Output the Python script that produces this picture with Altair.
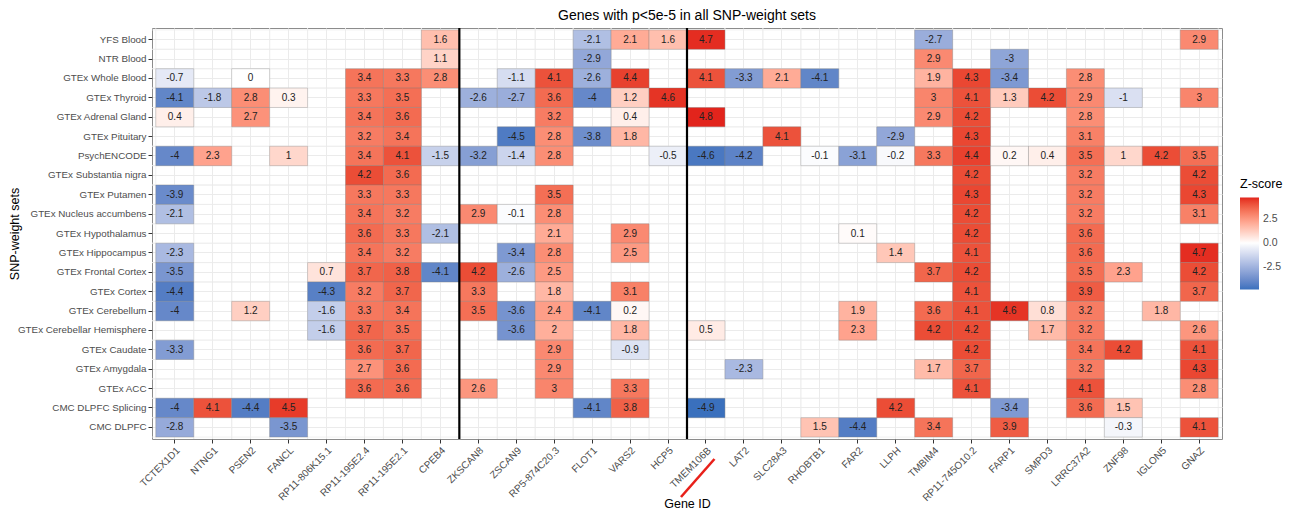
import altair as alt
import pandas as pd

N = None

sets = ["YFS Blood", "NTR Blood", "GTEx Whole Blood", "GTEx Thyroid", "GTEx Adrenal Gland",
        "GTEx Pituitary", "PsychENCODE", "GTEx Substantia nigra", "GTEx Putamen",
        "GTEx Nucleus accumbens", "GTEx Hypothalamus", "GTEx Hippocampus", "GTEx Frontal Cortex",
        "GTEx Cortex", "GTEx Cerebellum", "GTEx Cerebellar Hemisphere", "GTEx Caudate",
        "GTEx Amygdala", "GTEx ACC", "CMC DLPFC Splicing", "CMC DLPFC"]

genes = ["TCTEX1D1", "NTNG1", "PSEN2", "FANCL", "RP11-806K15.1", "RP11-195E2.4", "RP11-195E2.1",
         "CPEB4", "ZKSCAN8", "ZSCAN9", "RP5-874C20.3", "FLOT1", "VARS2", "HCP5", "TMEM106B",
         "LAT2", "SLC28A3", "RHOBTB1", "FAR2", "LLPH", "TMBIM4", "RP11-745O10.2", "FARP1",
         "SMPD3", "LRRC37A2", "ZNF98", "IGLON5", "GNAZ"]

# Z-scores per gene, one value per SNP-weight set (in the order of `sets`), None = not shown
z_TCTEX1D1 = [N, N, -0.7, -4.1, 0.4, N, -4, N, -3.9, -2.1, N, -2.3, -3.5, -4.4, -4, N, -3.3, N, N, -4, -2.8]
z_NTNG1 = [N, N, N, -1.8, N, N, 2.3, N, N, N, N, N, N, N, N, N, N, N, N, 4.1, N]
z_PSEN2 = [N, N, 0, 2.8, 2.7, N, N, N, N, N, N, N, N, N, 1.2, N, N, N, N, -4.4, N]
z_FANCL = [N, N, N, 0.3, N, N, 1, N, N, N, N, N, N, N, N, N, N, N, N, 4.5, -3.5]
z_RP11_806K15_1 = [N, N, N, N, N, N, N, N, N, N, N, N, 0.7, -4.3, -1.6, -1.6, N, N, N, N, N]
z_RP11_195E2_4 = [N, N, 3.4, 3.3, 3.4, 3.2, 3.4, 4.2, 3.3, 3.4, 3.6, 3.4, 3.7, 3.2, 3.3, 3.7, 3.6, 2.7, 3.6, N, N]
z_RP11_195E2_1 = [N, N, 3.3, 3.5, 3.6, 3.4, 4.1, 3.6, 3.3, 3.2, 3.3, 3.2, 3.8, 3.7, 3.4, 3.5, 3.7, 3.6, 3.6, N, N]
z_CPEB4 = [1.6, 1.1, 2.8, N, N, N, -1.5, N, N, N, -2.1, N, -4.1, N, N, N, N, N, N, N, N]
z_ZKSCAN8 = [N, N, N, -2.6, N, N, -3.2, N, N, 2.9, N, N, 4.2, 3.3, 3.5, N, N, N, 2.6, N, N]
z_ZSCAN9 = [N, N, -1.1, -2.7, N, -4.5, -1.4, N, N, -0.1, N, -3.4, -2.6, N, -3.6, -3.6, N, N, N, N, N]
z_RP5_874C20_3 = [N, N, 4.1, 3.6, 3.2, 2.8, 2.8, N, 3.5, 2.8, 2.1, 2.8, 2.5, 1.8, 2.4, 2, 2.9, 2.9, 3, N, N]
z_FLOT1 = [-2.1, -2.9, -2.6, -4, N, -3.8, N, N, N, N, N, N, N, N, -4.1, N, N, N, N, -4.1, N]
z_VARS2 = [2.1, N, 4.4, 1.2, 0.4, 1.8, N, N, N, N, 2.9, 2.5, N, 3.1, 0.2, 1.8, -0.9, N, 3.3, 3.8, N]
z_HCP5 = [1.6, N, N, 4.6, N, N, -0.5, N, N, N, N, N, N, N, N, N, N, N, N, N, N]
z_TMEM106B = [4.7, N, 4.1, N, 4.8, N, -4.6, N, N, N, N, N, N, N, N, 0.5, N, N, N, -4.9, N]
z_LAT2 = [N, N, -3.3, N, N, N, -4.2, N, N, N, N, N, N, N, N, N, N, -2.3, N, N, N]
z_SLC28A3 = [N, N, 2.1, N, N, 4.1, N, N, N, N, N, N, N, N, N, N, N, N, N, N, N]
z_RHOBTB1 = [N, N, -4.1, N, N, N, -0.1, N, N, N, N, N, N, N, N, N, N, N, N, N, 1.5]
z_FAR2 = [N, N, N, N, N, N, -3.1, N, N, N, 0.1, N, N, N, 1.9, 2.3, N, N, N, N, -4.4]
z_LLPH = [N, N, N, N, N, -2.9, -0.2, N, N, N, N, 1.4, N, N, N, N, N, N, N, 4.2, N]
z_TMBIM4 = [-2.7, 2.9, 1.9, 3, 2.9, N, 3.3, N, N, N, N, N, 3.7, N, 3.6, 4.2, N, 1.7, N, N, 3.4]
z_RP11_745O10_2 = [N, N, 4.3, 4.1, 4.2, 4.3, 4.4, 4.2, 4.3, 4.2, 4.2, 4.1, 4.2, 4.1, 4.1, 4.2, 4.2, 3.7, 4.1, N, N]
z_FARP1 = [N, -3, -3.4, 1.3, N, N, 0.2, N, N, N, N, N, N, N, 4.6, N, N, N, N, -3.4, 3.9]
z_SMPD3 = [N, N, N, 4.2, N, N, 0.4, N, N, N, N, N, N, N, 0.8, 1.7, N, N, N, N, N]
z_LRRC37A2 = [N, N, 2.8, 2.9, 2.8, 3.1, 3.5, 3.2, 3.2, 3.2, 3.6, 3.6, 3.5, 3.9, 3.2, 3.2, 3.4, 3.2, 4.1, 3.6, N]
z_ZNF98 = [N, N, N, -1, N, N, 1, N, N, N, N, N, 2.3, N, N, N, 4.2, N, N, 1.5, -0.3]
z_IGLON5 = [N, N, N, N, N, N, 4.2, N, N, N, N, N, N, N, 1.8, N, N, N, N, N, N]
z_GNAZ = [2.9, N, N, 3, N, N, 3.5, 4.2, 4.3, 3.1, N, 4.7, 4.2, 3.7, N, 2.6, 4.1, 4.3, 2.8, N, 4.1]

z_columns = [z_TCTEX1D1, z_NTNG1, z_PSEN2, z_FANCL, z_RP11_806K15_1, z_RP11_195E2_4, z_RP11_195E2_1,
             z_CPEB4, z_ZKSCAN8, z_ZSCAN9, z_RP5_874C20_3, z_FLOT1, z_VARS2, z_HCP5, z_TMEM106B,
             z_LAT2, z_SLC28A3, z_RHOBTB1, z_FAR2, z_LLPH, z_TMBIM4, z_RP11_745O10_2, z_FARP1,
             z_SMPD3, z_LRRC37A2, z_ZNF98, z_IGLON5, z_GNAZ]

separator_genes = ["ZKSCAN8", "TMEM106B"]   # black lines drawn at the left edge of these columns
highlight_gene = ["TMEM106B"]               # underlined in red

rows = []
for g, col in zip(genes, z_columns):
    for s, v in zip(sets, col):
        if v is not None:
            rows.append({"gene": g, "set": s, "z": v, "label": f"{v:g}"})
df = pd.DataFrame(rows)

W, H = 1070, 411
FONT = "Liberation Sans"
LOW, HIGH = "#3a70bd", "#e2241c"

xscale = alt.Scale(type="band", domain=genes, paddingInner=0, paddingOuter=0.1)
yscale = alt.Scale(type="band", domain=sets, paddingInner=0, paddingOuter=0.1)

xaxis = alt.Axis(labelAngle=-45, labelFontSize=10, labelColor="#4d4d4d", labelPadding=2,
                 tickColor="#333333", tickSize=4, grid=True, gridColor="#ebebeb", gridWidth=1,
                 domain=False, title="Gene ID", titleFontSize=12.5, titleFontWeight="normal",
                 titleColor="black", titleBaseline="middle", titleY=64)
yaxis = alt.Axis(labelFontSize=9.8, labelColor="#4d4d4d", labelPadding=2,
                 tickColor="#333333", tickSize=4, grid=True, gridColor="#ebebeb", gridWidth=1,
                 domain=False, title="SNP-weight sets", titleFontSize=12.5, titleFontWeight="normal",
                 titleColor="black", titleX=-131, titleY=H / 2)

genes_df = pd.DataFrame({"gene": genes})
sets_df = pd.DataFrame({"set": sets})

grid_x0 = alt.Chart(genes_df).mark_rule(color="#ebebeb", strokeWidth=0.7).encode(
    x=alt.X("gene:N", bandPosition=0, scale=xscale, axis=xaxis))
grid_x1 = alt.Chart(genes_df).mark_rule(color="#ebebeb", strokeWidth=0.7).encode(
    x=alt.X("gene:N", bandPosition=1, scale=xscale, axis=xaxis))
grid_y0 = alt.Chart(sets_df).mark_rule(color="#ebebeb", strokeWidth=0.7).encode(
    y=alt.Y("set:N", bandPosition=0, scale=yscale, axis=yaxis))
grid_y1 = alt.Chart(sets_df).mark_rule(color="#ebebeb", strokeWidth=0.7).encode(
    y=alt.Y("set:N", bandPosition=1, scale=yscale, axis=yaxis))

zdomain = [float(df["z"].min()), 0.0, float(df["z"].max())]

tiles = alt.Chart(df).mark_rect(stroke="#7a7a7a", strokeWidth=0.6, strokeOpacity=0.55).encode(
    x=alt.X("gene:N", scale=xscale, axis=xaxis),
    y=alt.Y("set:N", scale=yscale, axis=yaxis),
    color=alt.Color("z:Q",
                    scale=alt.Scale(domain=zdomain, range=[LOW, "#ffffff", HIGH], interpolate="lab"),
                    legend=alt.Legend(title="Z-score", orient="none", legendX=W + 18, legendY=150,
                                      gradientLength=92, gradientThickness=19, values=[-2.5, 0, 2.5],
                                      labelExpr="(datum.value < 0 ? '-' : '') + format(abs(datum.value), '.1f')",
                                      labelFontSize=10.5, labelColor="#4d4d4d", titleFontSize=12.5,
                                      titleFontWeight="normal", titleColor="black", titlePadding=7,
                                      gradientStrokeWidth=0, labelOffset=4)),
)

texts = alt.Chart(df).mark_text(fontSize=10, color="#222222", font=FONT).encode(
    x=alt.X("gene:N", scale=xscale, axis=xaxis),
    y=alt.Y("set:N", scale=yscale, axis=yaxis),
    text="label:N",
)

seps = alt.Chart(pd.DataFrame({"gene": separator_genes})).mark_rule(color="black", strokeWidth=2.2).encode(
    x=alt.X("gene:N", bandPosition=0, scale=xscale, axis=xaxis))

underline = alt.Chart(pd.DataFrame({"gene": highlight_gene})).mark_rule(
    color="#e8201a", strokeWidth=2.6, xOffset=-25, x2Offset=8.5).encode(
    x=alt.X("gene:N", bandPosition=0.5, scale=xscale, axis=xaxis),
    x2=alt.X2("gene"),
    y=alt.value(H + 58),
    y2=alt.value(H + 20),
)

chart = alt.layer(grid_x0, grid_x1, grid_y0, grid_y1, tiles, texts, seps, underline).properties(
    width=W, height=H,
    title=alt.TitleParams("Genes with p<5e-5 in all SNP-weight sets", fontSize=14, fontWeight="normal",
                          color="black", anchor="middle", offset=4, font=FONT),
    padding={"left": 0, "top": 0, "right": 0, "bottom": 0},
).configure_view(stroke="#8c8c8c", strokeWidth=1).configure_axis(
    labelFont=FONT, titleFont=FONT).configure_legend(labelFont=FONT, titleFont=FONT)

chart.save("out.html", embed_options={"renderer": "svg", "actions": False})
